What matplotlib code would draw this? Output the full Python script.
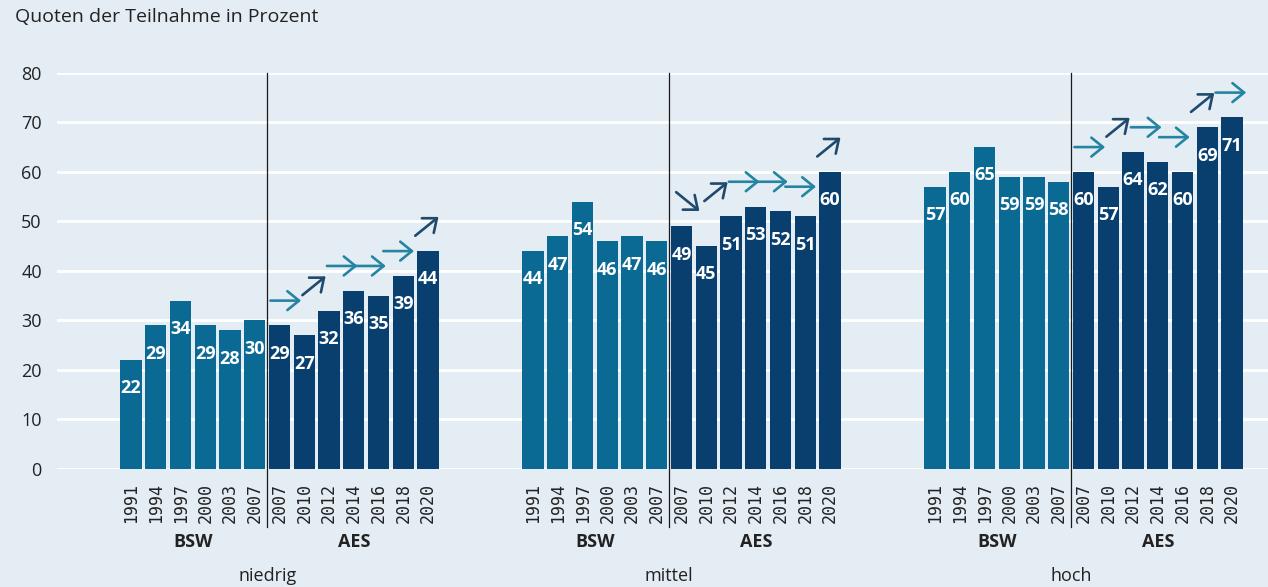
import numpy as np
import matplotlib.pyplot as plt
import matplotlib.transforms as mtransforms

# values
years = ["1991", "1994", "1997", "2000", "2003", "2007",
         "2007", "2010", "2012", "2014", "2016", "2018", "2020"]
n_bsw = 6  # first six bars come from BSW, the rest from AES
groups = ["niedrig", "mittel", "hoch"]
niedrig = [22, 29, 34, 29, 28, 30, 29, 27, 32, 36, 35, 39, 44]
mittel = [44, 47, 54, 46, 47, 46, 49, 45, 51, 53, 52, 51, 60]
hoch = [57, 60, 65, 59, 59, 58, 60, 57, 64, 62, 60, 69, 71]
# trend arrows between consecutive AES waves: r = gleich, u = steigend, d = fallend
trend_niedrig = ["r", "u", "r", "r", "r", "u"]
trend_mittel = ["d", "u", "r", "r", "r", "u"]
trend_hoch = ["r", "u", "r", "r", "u", "r"]

values = [niedrig, mittel, hoch]
trends = [trend_niedrig, trend_mittel, trend_hoch]

bg = "#e4edf4"
c_bsw = "#0b6a93"
c_aes = "#083f6f"
c_flat = "#2684a3"
c_diag = "#1f4a6e"
txt = "#222222"

plt.rcParams["font.family"] = ["Open Sans", "DejaVu Sans"]

fig = plt.figure(figsize=(12.68, 5.87), dpi=100, facecolor=bg)
ax = fig.add_axes([0.045, 0.201, 0.955, 0.675], facecolor=bg)

step = 16.24
n = len(years)
trans = mtransforms.blended_transform_factory(ax.transData, ax.transAxes)

for g, (name, vals, tr) in enumerate(zip(groups, values, trends)):
    x0 = g * step
    xs = x0 + np.arange(n)
    cols = [c_bsw] * n_bsw + [c_aes] * (n - n_bsw)
    ax.bar(xs, vals, width=0.86, color=cols, zorder=2)
    for x, v, yr in zip(xs, vals, years):
        ax.annotate(str(v), (x, v), xytext=(0, -24), textcoords="offset points",
                    ha="center", va="baseline", color="white",
                    fontsize=13, fontweight="bold", zorder=4)
        # year label (slab-ish mono digits like the original)
        ax.text(x, -0.035, yr, transform=trans, rotation=90, ha="center",
                va="top", fontsize=12, color=txt, family="DejaVu Sans Mono")

    # divider BSW | AES
    xd = x0 + n_bsw - 0.5
    ax.plot([xd, xd], [1, -0.146], transform=trans, color="#1a1a1a",
            lw=0.9, clip_on=False, zorder=5)
    ax.text(x0 + (n_bsw - 1) / 2, -0.184, "BSW", transform=trans, ha="center",
            va="center", fontsize=13, fontweight="bold", color=txt)
    ax.text(x0 + n_bsw + (n - n_bsw - 1) / 2, -0.184, "AES", transform=trans,
            ha="center", va="center", fontsize=13, fontweight="bold", color=txt)
    ax.text(xd, -0.27, name, transform=trans, ha="center", va="center",
            fontsize=13, color=txt)

    # trend arrows
    for k, d in enumerate(tr):
        xa = x0 + 6.25 + 1.14 * k
        ya = max(vals[n_bsw + k], vals[n_bsw + k + 1]) + 5
        if d == "r":
            start, end, col = (xa - 0.62, ya), (xa + 0.62, ya), c_flat
        elif d == "u":
            start, end, col = (xa - 0.47, ya - 1.9), (xa + 0.47, ya + 1.9), c_diag
        else:
            start, end, col = (xa - 0.47, ya + 1.9), (xa + 0.47, ya - 1.9), c_diag
        ax.annotate("", xy=end, xytext=start,
                    arrowprops=dict(arrowstyle="->,head_length=0.42,head_width=0.34",
                                    mutation_scale=20, lw=1.9, color=col,
                                    shrinkA=0, shrinkB=0),
                    zorder=6)

ax.set_xlim(-2.99, 2 * step + 12 + 1.45)
ax.set_ylim(0, 80)
ax.set_yticks(range(0, 81, 10))
ax.yaxis.grid(True, color="white", lw=2, zorder=0)
ax.set_axisbelow(True)
ax.set_xticks([])
ax.tick_params(axis="y", length=0, pad=11, labelsize=13, labelcolor=txt)
for s in ax.spines.values():
    s.set_visible(False)

fig.text(15 / 1268, 1 - 17 / 587, "Quoten der Teilnahme in Prozent",
         ha="left", va="center", fontsize=14, color=txt)

fig.savefig("out.png", dpi=100, facecolor=bg)
